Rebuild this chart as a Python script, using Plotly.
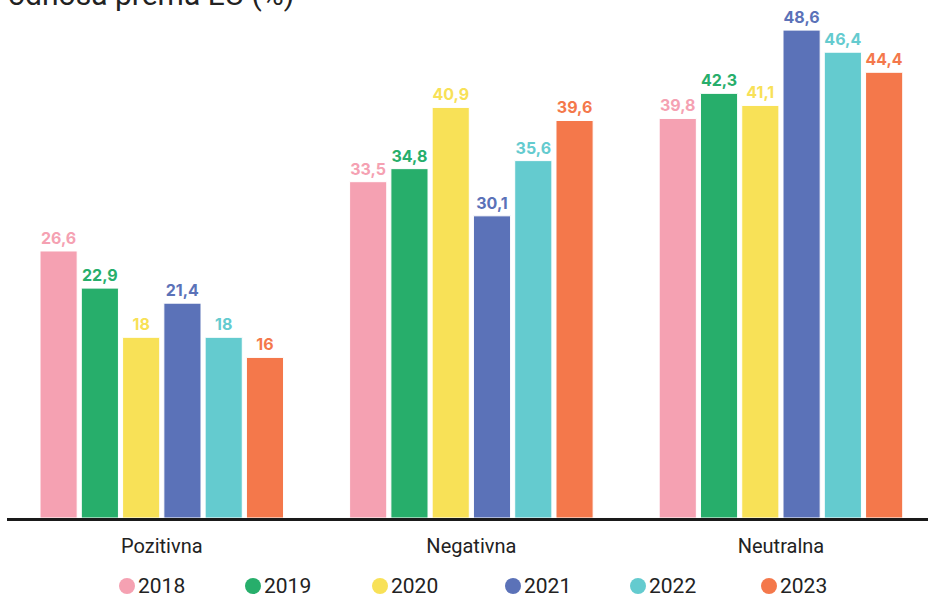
import plotly.graph_objects as go

categories = ["Pozitivna", "Negativna", "Neutralna"]
years = ["2018", "2019", "2020", "2021", "2022", "2023"]
values = {
    "2018": [26.6, 33.5, 39.8],
    "2019": [22.9, 34.8, 42.3],
    "2020": [18.0, 40.9, 41.1],
    "2021": [21.4, 30.1, 48.6],
    "2022": [18.0, 35.6, 46.4],
    "2023": [16.0, 39.6, 44.4],
}
colors = {
    "2018": "#F5A1B2",
    "2019": "#27AE6B",
    "2020": "#F8E157",
    "2021": "#5B72B8",
    "2022": "#64CBCF",
    "2023": "#F4784B",
}
title_text = "odnosa prema EU (%)"

# plot-area geometry in pixels (used to place the hand-made legend)
W, H = 928, 595
ML, MB = 7, 77
PW, PH = W - ML, H - MB
legend_x = [127, 253, 380, 513, 638, 769]  # circle centres
legend_y = 586


def fmt(v):
    s = f"{v:.1f}".replace(".", ",")
    return s[:-2] if s.endswith(",0") else s


def px_to_paper(px, py):
    return (px - ML) / PW, (PH - py) / PH


fig = go.Figure()
for y in years:
    fig.add_trace(go.Bar(
        x=categories, y=values[y], name=y,
        marker=dict(color=colors[y], line=dict(color="white", width=1)),
        text=[fmt(v) for v in values[y]], textposition="outside",
        textfont=dict(family="Inter", size=16, color=colors[y], weight="bold"),
        cliponaxis=False, showlegend=False,
    ))

# legend: round swatch followed by the year
for y, cx in zip(years, legend_x):
    xp, yp = px_to_paper(cx, legend_y)
    fig.add_shape(
        type="circle", xref="paper", yref="paper",
        xsizemode="pixel", ysizemode="pixel", xanchor=xp, yanchor=yp,
        x0=-8, x1=8, y0=-8, y1=8,
        fillcolor=colors[y], line=dict(width=0),
    )
    tx, ty = px_to_paper(cx + 9, legend_y)
    fig.add_annotation(
        text=y, xref="paper", yref="paper", x=tx, y=ty,
        xanchor="left", yanchor="middle", showarrow=False,
        font=dict(family="Roboto", size=21, color="#222222"),
    )

tx, ty = px_to_paper(6, 14)
fig.add_annotation(
    text=title_text, xref="paper", yref="paper", x=tx, y=ty,
    xanchor="left", yanchor="bottom", showarrow=False,
    font=dict(family="Roboto", size=30, color="#222222"),
)

fig.update_layout(
    width=W, height=H,
    margin=dict(l=ML, r=0, t=0, b=MB, autoexpand=False),
    paper_bgcolor="white", plot_bgcolor="white",
    barmode="group", bargap=0.2, bargroupgap=0.1,
    showlegend=False,
    xaxis=dict(
        type="category", range=[-0.5, 2.475],
        showline=True, linecolor="#1a1a1a", linewidth=3,
        showgrid=False, ticks="outside", ticklen=8, tickcolor="rgba(0,0,0,0)",
        tickfont=dict(family="Roboto", size=20, color="#222222"),
    ),
    yaxis=dict(range=[0, 51.6], visible=False, showgrid=False),
)

fig.write_html("out.html")
